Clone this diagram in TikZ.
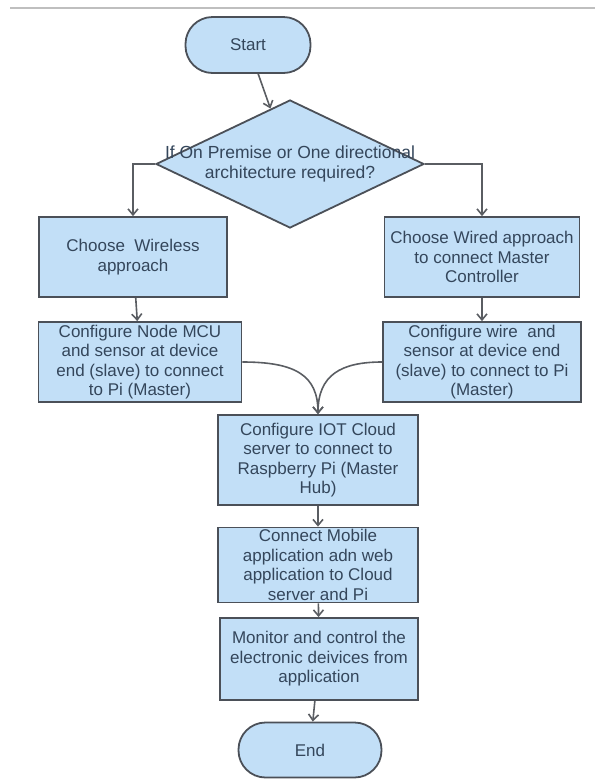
\documentclass[tikz,border=0pt]{standalone}
\usepackage{fontspec}
\setmainfont{Liberation Sans}
\usetikzlibrary{shapes.geometric,arrows.meta}
\definecolor{boxfill}{HTML}{C2DFF7}
\definecolor{boxline}{HTML}{4B5058}
\definecolor{boxtext}{HTML}{34465B}
\definecolor{flowline}{HTML}{5A5D62}
\begin{document}
\begin{tikzpicture}[x=1pt,y=-1pt,
  box/.style={rectangle, draw=boxline, fill=boxfill, line width=1.8pt, text=boxtext, align=center, inner sep=0pt, font=\fontsize{17}{19.5}\selectfont},
  term/.style={box, rounded corners=27pt},
  decision/.style={diamond, draw=boxline, fill=boxfill, line width=1.8pt, inner sep=0pt},
  flow/.style={draw=flowline, line width=1.6pt, -{Straight Barb[length=6pt,width=10pt]}}]
\useasboundingbox (0,0) rectangle (595,780);
\draw[black!25, line width=1.2pt] (10,8) -- (595,8);
\node[term, minimum width=125pt, minimum height=56pt] (start) at (248,45){Start};
\node[decision, minimum width=268pt, minimum height=128pt] (dec) at (290,164){};
\node[text=boxtext, align=center, font=\fontsize{17.5}{20}\selectfont] (dectxt) at (dec.center){If On Premise or One directional\\architecture required?};
\draw[flow](start) -- (dec);
\node[box, minimum width=188pt, minimum height=80pt] (wless) at (133,257){Choose\ \ Wireless\\approach};
\node[box, minimum width=195pt, minimum height=80pt] (wired) at (482,257){Choose Wired approach\\to connect Master\\Controller};
\draw[flow](dec.west) -| (wless.north);
\draw[flow](dec.east) -| (wired.north);
\node[box, minimum width=203pt, minimum height=80pt] (cfgl) at (140,362){Configure Node MCU\\and sensor at device\\end (slave) to connect\\to Pi (Master)};
\node[box, minimum width=198pt, minimum height=80pt] (cfgr) at (482,362){Configure wire\ \ and\\sensor at device end\\(slave) to connect to Pi\\(Master)};
\draw[flow](wless) -- (cfgl);
\draw[flow](wired) -- (cfgr);
\node[box, minimum width=200pt, minimum height=90pt] (iot) at (318,460){Configure IOT Cloud\\server to connect to\\Raspberry Pi (Master\\Hub)};
\draw[flow](cfgl.east) .. controls (295,362) and (318,375) .. (iot.north);
\draw[flow](cfgr.west) .. controls (341,362) and (318,375) .. (iot.north);
\node[box, minimum width=200pt, minimum height=75pt] (mobile) at (318,565){Connect Mobile\\application adn web\\application to Cloud\\server and Pi};
\draw[flow](iot) -- (mobile);
\node[box, minimum width=198pt, minimum height=82pt] (monitor) at (319,659){Monitor and control the\\electronic deivices from\\application};
\draw[flow](mobile) -- (monitor);
\node[term, minimum width=143pt, minimum height=55pt] (stop) at (310,750){End};
\draw[flow](monitor) -- (stop);
\end{tikzpicture}
\end{document}
